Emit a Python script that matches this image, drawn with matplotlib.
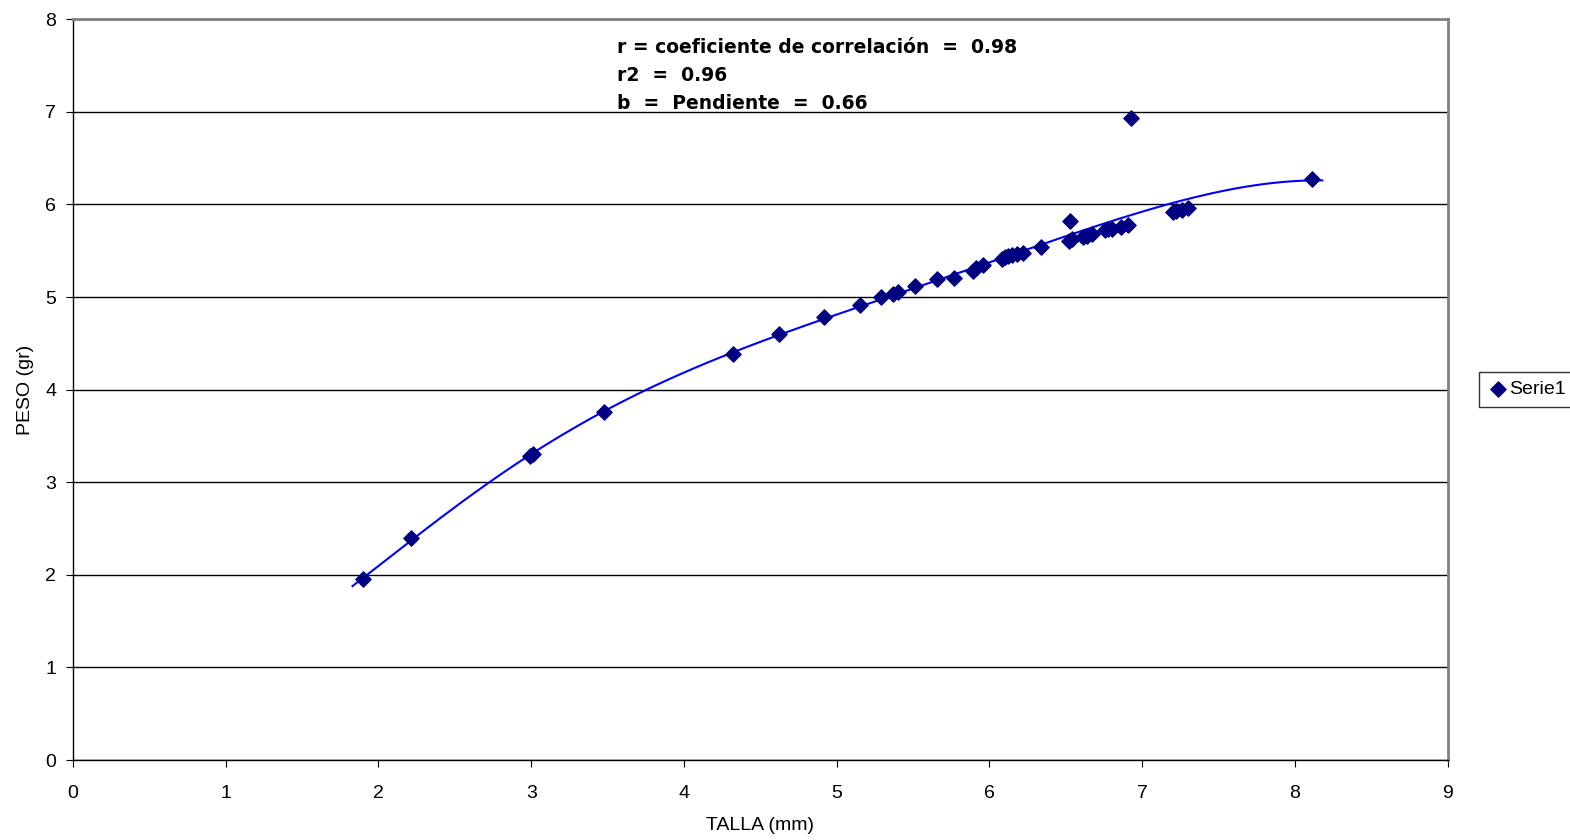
import matplotlib.pyplot as plt
import numpy as np

talla = [1.90, 2.21, 2.99, 3.01, 3.48, 4.32, 4.62, 4.92, 5.15, 5.29, 5.37, 5.40,
         5.51, 5.66, 5.77, 5.89, 5.91, 5.96, 6.08, 6.10, 6.12, 6.15, 6.18, 6.22,
         6.34, 6.53, 6.52, 6.54, 6.61, 6.64, 6.67, 6.76, 6.78, 6.80, 6.86, 6.91,
         6.93, 7.20, 7.22, 7.26, 7.30, 8.11]
peso = [1.95, 2.40, 3.28, 3.31, 3.76, 4.39, 4.60, 4.78, 4.91, 5.00, 5.03, 5.05,
        5.12, 5.20, 5.21, 5.28, 5.31, 5.35, 5.41, 5.43, 5.44, 5.45, 5.46, 5.48,
        5.54, 5.82, 5.61, 5.63, 5.65, 5.66, 5.68, 5.72, 5.73, 5.74, 5.76, 5.78,
        6.93, 5.92, 5.93, 5.94, 5.96, 6.28]

texto = "r = coeficiente de correlación  =  0.98\nr2  =  0.96\nb  =  Pendiente  =  0.66"

plt.rcParams['font.family'] = ['Liberation Sans', 'DejaVu Sans']

fig = plt.figure(figsize=(15.7, 8.4), dpi=100)
ax = fig.add_axes([0.0465, 0.0952, 0.8755, 0.8818])

# linea de tendencia polinomica (orden 6, como en Excel)
t = np.array(talla)
p = np.array(peso)
coef = np.polyfit(t, p, 6)
xs = np.linspace(t.min() - 0.07, t.max() + 0.07, 200)
ax.plot(xs, np.polyval(coef, xs), color='#0000FF', lw=1.5, zorder=2)

ax.scatter(talla, peso, marker='D', s=60, color='#000080', zorder=3, label='Serie1')

ax.set_xlim(0, 9)
ax.set_ylim(0, 8)
ax.set_xticks(range(10))
ax.set_yticks(range(9))
ax.grid(axis='y', color='black', lw=1)
ax.set_axisbelow(True)
for s in ['top', 'right']:
    ax.spines[s].set_color('#808080')
    ax.spines[s].set_linewidth(2)
for s in ['left', 'bottom']:
    ax.spines[s].set_color('black')
    ax.spines[s].set_linewidth(1)
ax.tick_params(direction='out', length=5, labelsize=14)
ax.tick_params(axis='x', pad=13)
ax.tick_params(axis='y', pad=7)

ax.set_xlabel("TALLA (mm)", fontsize=14, labelpad=11)
ax.set_ylabel("PESO (gr)", fontsize=14, labelpad=8)

ax.text(0.3956, 0.975, texto, transform=ax.transAxes, fontsize=13.5,
        fontweight='bold', va='top', ha='left', linespacing=1.6,
        family=['DejaVu Sans'])

leg = ax.legend(loc='center left', bbox_to_anchor=(1.023, 0.5), fontsize=14,
                frameon=True, fancybox=False, edgecolor='black',
                handletextpad=0.1, borderpad=0.45, handlelength=1.0,
                borderaxespad=0)
leg.get_frame().set_linewidth(1)

fig.savefig('out.png', dpi=100)
